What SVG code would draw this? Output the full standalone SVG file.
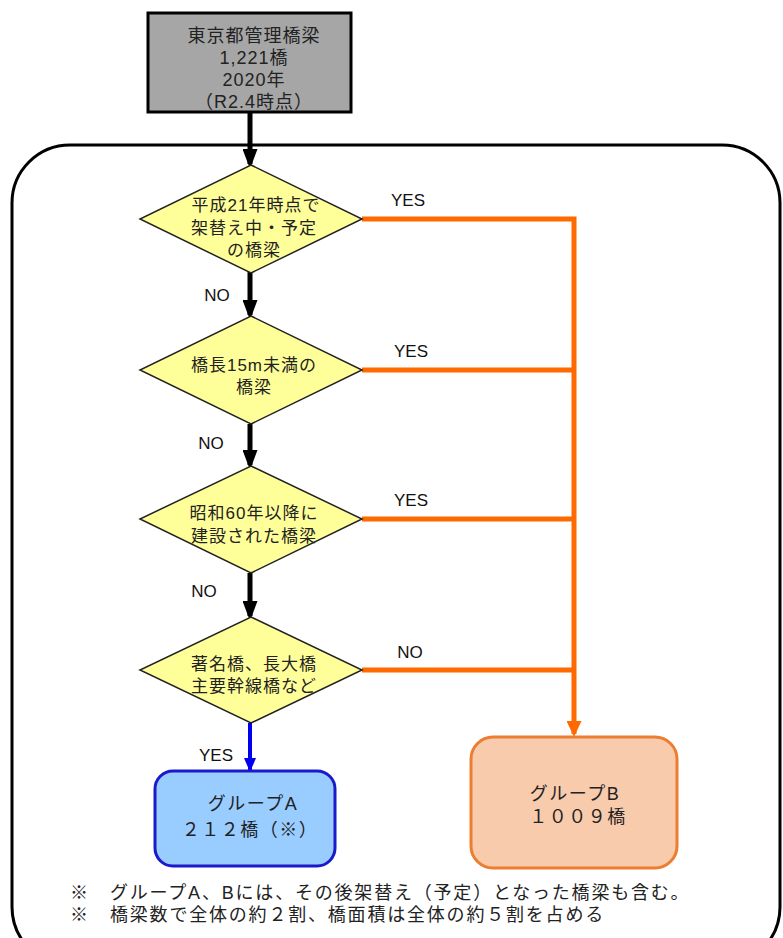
<svg xmlns="http://www.w3.org/2000/svg" width="783" height="938" viewBox="0 0 783 938">
<style>
text{font-family:"Liberation Sans","Noto Sans CJK JP",sans-serif;fill:#222;text-anchor:middle}
.d{fill:#ffff99;stroke:#222;stroke-width:1.5}
.dt{font-size:17px;letter-spacing:1px}
.tb{font-size:18px;letter-spacing:1px}
.gt{font-size:18px;letter-spacing:1.5px}
.lbl{font-size:17px;fill:#111}
.blk{stroke:#000;stroke-width:5;fill:none}
.org{stroke:#ff6a00;stroke-width:5;fill:none}
.blu{stroke:#0000ee;stroke-width:4;fill:none}
.note{font-size:18px;letter-spacing:1.8px;text-anchor:start}
</style>
<defs>
<marker id="ab" markerWidth="4" markerHeight="3" refX="3" refY="1.5" orient="auto" markerUnits="strokeWidth"><path d="M0,0L4,1.5L0,3z" fill="#000"/></marker>
<marker id="ao" markerWidth="3.2" markerHeight="3" refX="2.6" refY="1.5" orient="auto" markerUnits="strokeWidth"><path d="M0,0L3.2,1.5L0,3z" fill="#ff6a00"/></marker>
<marker id="au" markerWidth="3.5" markerHeight="3" refX="3" refY="1.5" orient="auto" markerUnits="strokeWidth"><path d="M0,0L3.5,1.5L0,3z" fill="#0000ee"/></marker>
</defs>
<rect x="12" y="145" width="768" height="820" rx="58" fill="none" stroke="#000" stroke-width="3"/>
<g id="connectors">
<line class="blk" x1="250" y1="112" x2="250" y2="164" marker-end="url(#ab)"/>
<line class="blk" x1="250" y1="272" x2="250" y2="315" marker-end="url(#ab)"/>
<line class="blk" x1="250" y1="424" x2="250" y2="465" marker-end="url(#ab)"/>
<line class="blk" x1="250" y1="573" x2="250" y2="616" marker-end="url(#ab)"/>
<line class="blu" x1="250" y1="723" x2="250" y2="770" marker-end="url(#au)"/>
<polyline class="org" points="362,219 574,219 574,734" marker-end="url(#ao)"/>
<line class="org" x1="362" y1="370" x2="574" y2="370"/>
<line class="org" x1="362" y1="519" x2="574" y2="519"/>
<line class="org" x1="362" y1="670" x2="574" y2="670"/>
<text class="lbl" x="408" y="206">YES</text>
<text class="lbl" x="411" y="357">YES</text>
<text class="lbl" x="411" y="506">YES</text>
<text class="lbl" x="410" y="658">NO</text>
<text class="lbl" x="217" y="301">NO</text>
<text class="lbl" x="211" y="449">NO</text>
<text class="lbl" x="204" y="597">NO</text>
<text class="lbl" x="216" y="761">YES</text>
</g>
<g id="start">
<rect x="148" y="13" width="203" height="99" fill="#a6a6a6" stroke="#000" stroke-width="3"/>
<text class="tb" x="254" y="42">東京都管理橋梁</text>
<text class="tb" x="254" y="64">1,221橋</text>
<text class="tb" x="254" y="86">2020年</text>
<text class="tb" x="254" y="108">（R2.4時点）</text>
</g>
<g id="q1">
<polygon class="d" points="251,165 362,219 251,273 140,219"/>
<text class="dt" x="256" y="211">平成21年時点で</text>
<text class="dt" x="254" y="234">架替え中・予定</text>
<text class="dt" x="254" y="256">の橋梁</text>
</g>
<g id="q2">
<polygon class="d" points="251,316 362,370 251,424 140,370"/>
<text class="dt" x="254" y="371">橋長15m未満の</text>
<text class="dt" x="254" y="393">橋梁</text>
</g>
<g id="q3">
<polygon class="d" points="251,466 362,519 251,573 140,519"/>
<text class="dt" x="254" y="519">昭和60年以降に</text>
<text class="dt" x="254" y="542">建設された橋梁</text>
</g>
<g id="q4">
<polygon class="d" points="251,617 362,670 251,723 140,670"/>
<text class="dt" x="254" y="670">著名橋、長大橋</text>
<text class="dt" x="254" y="692">主要幹線橋など</text>
</g>
<g id="groupA">
<rect x="155" y="771" width="180" height="95" rx="18" fill="#99ccff" stroke="#1a1acc" stroke-width="3"/>
<text class="gt" x="253" y="810">グループA</text>
<text class="gt" x="250" y="836">２１２橋（※）</text>
</g>
<g id="groupB">
<rect x="471" y="737" width="206" height="131" rx="22" fill="#f8cbad" stroke="#ed7d31" stroke-width="3"/>
<text class="gt" x="575" y="800">グループB</text>
<text class="gt" x="578" y="823">１００９橋</text>
</g>
<g id="notes">
<text class="note" x="70" y="899">※</text>
<text class="note" x="110" y="899">グループA、Bには、その後架替え（予定）となった橋梁も含む。</text>
<text class="note" x="70" y="921">※</text>
<text class="note" x="110" y="921">橋梁数で全体の約２割、橋面積は全体の約５割を占める</text>
</g>
</svg>
